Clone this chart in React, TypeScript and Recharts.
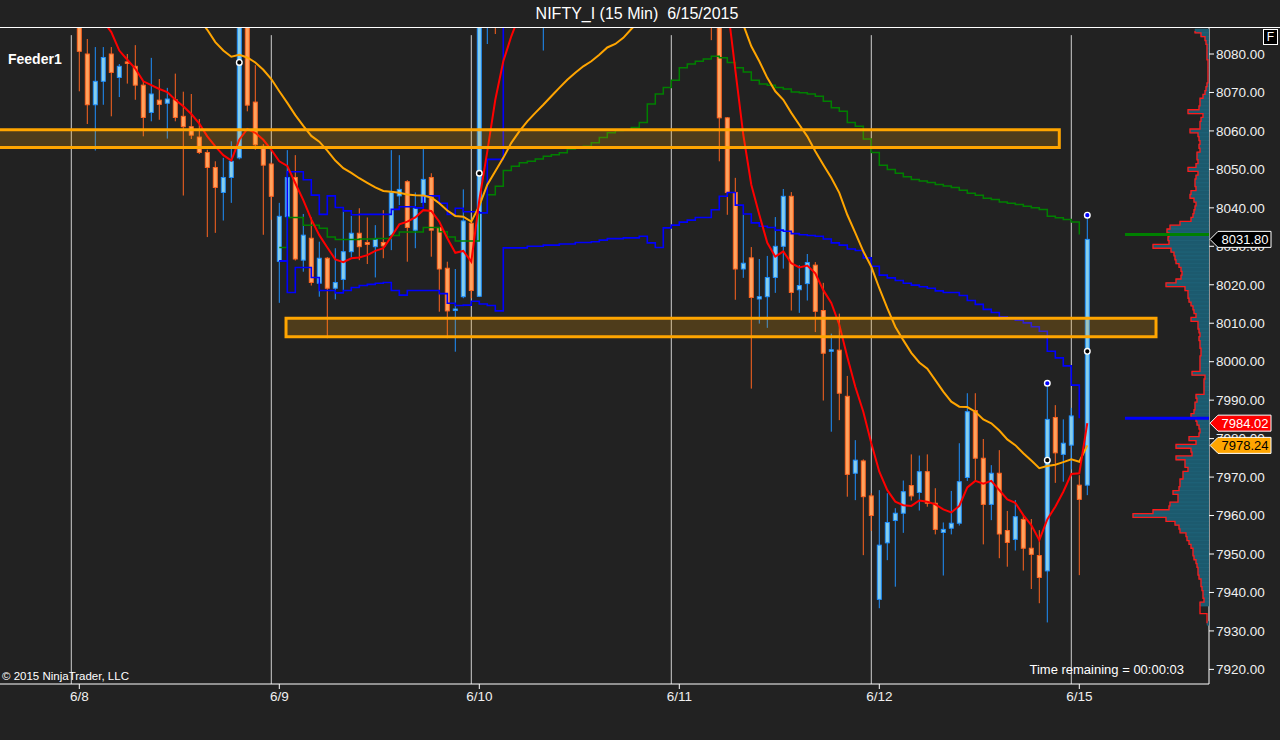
import React from "react";
import {
  ComposedChart,
  Bar,
  Line,
  Scatter,
  XAxis,
  YAxis,
  ReferenceLine,
  ReferenceArea,
  ReferenceDot,
} from "recharts";

const FONT = "'Liberation Sans', Arial, Helvetica, sans-serif";
const BG = "#222222";

// x = bar slot (15 min bars), y = price
const X_DOMAIN: [number, number] = [-0.9125, 150.2125];
const Y_DOMAIN: [number, number] = [7916.2, 8087.02];

// first visible bar slot
const firstBar = 9;

const opens = [
  8092, 8080.0, 8066.8, 8072.9, 8080.0, 8073.9, 8077.9, 8076.8, 8071.9, 8064.8,
  8068.0, 8067.2, 8068.1, 8063.8, 8061.1, 8058.4, 8054.4, 8050.5, 8044.0, 8047.9,
  8053.0, 8091, 8067.5, 8056.0, 8051.4, 8026.1, 8037.7, 8047.9, 8026.4, 8032.1,
  8020.4, 8026.9, 8019.1, 8021.4, 8028.6, 8033.4, 8031.0, 8029.9, 8031.0, 8032.8,
  8043.1, 8046.8, 8034.2, 8041.4, 8047.9, 8034.9, 8024.3, 8013.3, 8016.9, 8036.0,
  8017.0, 8095, 8106, 8098, 8111, 8116, 8110, 8104, 8096, 8105,
  8112, 8108, 8114, 8118, 8115, 8111, 8113, 8116, 8114, 8110,
  8112, 8109, 8113, 8111, 8108, 8110, 8120, 8118, 8114, 8106,
  8094, 8063.4, 8044.0, 8024.1, 8027.0, 8016.3, 8016.9, 8021.9, 8030.0, 8043.0,
  8018.7, 8020.3, 8025.1, 8013.3, 8002.7, 8003.0, 7991.0, 7971.0, 7974.2, 7965.1,
  7938.2, 7952.9, 7958.7, 7960.6, 7967.8, 7966.0, 7971.4, 7963.2, 7955.6, 7956.7,
  7958.0, 7969.9, 7987.3, 7974.9, 7962.9, 7971.0, 7956.1, 7953.8, 7959.0, 7951.5,
  7949.6, 7945.6, 7985.5, 7975.9, 7978.3, 7967.9, 7967.9,
];

const highs = [
  8095, 8083.9, 8081.8, 8081.8, 8081.8, 8077.4, 8080.0, 8082.3, 8072.9, 8079.0,
  8073.5, 8071.2, 8074.9, 8070.2, 8069.6, 8063.1, 8055.1, 8052.1, 8053.0, 8057.3,
  8096, 8094, 8077.1, 8056.6, 8051.8, 8041.3, 8055, 8053.7, 8038.4, 8037.5,
  8031.2, 8027.2, 8029.5, 8039.0, 8037.9, 8039.9, 8037.5, 8035.5, 8039.4, 8055,
  8053.7, 8047.2, 8044.0, 8056, 8049.0, 8035.0, 8026.0, 8024.1, 8044.8, 8036.2,
  8098, 8110, 8112, 8115, 8120, 8122, 8118, 8109, 8108, 8114,
  8118, 8116, 8121, 8124, 8119, 8117, 8120, 8122, 8118, 8116,
  8118, 8115, 8119, 8116, 8114, 8124, 8128, 8125, 8118, 8110,
  8098, 8063.6, 8047.8, 8038.2, 8029.8, 8026.7, 8027.5, 8037.6, 8044.9, 8044.1,
  8025.1, 8028.0, 8025.9, 8020.5, 8007.3, 8012.5, 7996.3, 7979.6, 7974.6, 7965.8,
  7966.6, 7965.8, 7961.9, 7969.1, 7975.9, 7975.6, 7975.9, 7967.1, 7958.2, 7966.4,
  7978.8, 7991.8, 7991.8, 7979.9, 7973.1, 7977.0, 7961.2, 7964.0, 7960.4, 7959.1,
  7956.2, 7994.4, 7988.7, 7985.0, 7988.0, 7970.5, 8038.1,
];

const lows = [
  8070.3, 8061.8, 8054.9, 8066.8, 8063.8, 8068.8, 8072.3, 8068.1, 8058.6, 8062.5,
  8062.9, 8058.0, 8062.5, 8043.2, 8057.9, 8054.0, 8032.4, 8033.5, 8036.7, 8041.3,
  8052.6, 8065.1, 8055.1, 8033.0, 8036.9, 8015.3, 8029.9, 8026.3, 8023.4, 8019.8,
  8016.9, 8006.1, 8016.2, 8018.6, 8027.1, 8026.4, 8025.4, 8021.9, 8026.9, 8029.0,
  8040.7, 8026.0, 8029.5, 8040.5, 8027.3, 8013.0, 8006.1, 8002.6, 8016.5, 8016.5,
  8016.8, 8082.6, 8085.2, 8094, 8105, 8108, 8100, 8092, 8080.9, 8100,
  8106, 8103, 8110, 8112, 8108, 8105, 8109, 8111, 8108, 8104,
  8107, 8104, 8108, 8105, 8102, 8106, 8114, 8110, 8104, 8083.6,
  8052.1, 8038.2, 8016.1, 8021.8, 7993.0, 8009.9, 8008.8, 8017.9, 8024.2, 8013.3,
  8012.7, 8015.9, 8007.7, 7989.9, 7981.8, 7984.8, 7964.9, 7964.0, 7949.7, 7956.0,
  7935.9, 7948.4, 7941.5, 7955.5, 7963.9, 7961.3, 7962.3, 7955.1, 7944.4, 7955.1,
  7957.4, 7969.0, 7969.2, 7952.5, 7958.8, 7948.9, 7946.7, 7950.9, 7945.7, 7940.9,
  7937.2, 7932.2, 7968.5, 7968.8, 7972.0, 7944.5, 7965.3,
];

const closes = [
  8080.7, 8066.8, 8072.9, 8079.1, 8075.2, 8076.8, 8077.6, 8071.9, 8063.5, 8069.6,
  8066.9, 8068.3, 8063.5, 8061.1, 8058.9, 8054.4, 8050.5, 8045.3, 8047.9, 8052.1,
  8092, 8066.7, 8056.4, 8051.1, 8043.0, 8037.8, 8047.9, 8026.7, 8032.9, 8020.6,
  8026.9, 8019.1, 8020.6, 8028.6, 8033.4, 8029.9, 8030.5, 8031.8, 8030.1, 8044.0,
  8044.8, 8034.9, 8039.9, 8047.4, 8034.2, 8024.1, 8013.2, 8013.7, 8036.6, 8018.5,
  8095, 8106, 8098, 8111, 8116, 8110, 8104, 8096, 8105, 8112,
  8108, 8114, 8118, 8115, 8111, 8113, 8116, 8114, 8110, 8112,
  8109, 8113, 8111, 8108, 8110, 8120, 8118, 8114, 8106, 8094,
  8063.4, 8044.0, 8024.1, 8025.6, 8016.7, 8016.9, 8021.9, 8030.0, 8043.0, 8018.0,
  8019.8, 8025.8, 8013.1, 8002.2, 8003.1, 7991.8, 7970.7, 7974.4, 7964.9, 7960.0,
  7952.3, 7958.2, 7960.6, 7966.2, 7965.1, 7971.4, 7963.2, 7956.4, 7956.4, 7958.0,
  7968.8, 7987.0, 7974.9, 7962.9, 7971.0, 7955.2, 7953.0, 7959.7, 7951.5, 7949.9,
  7943.9, 7985.0, 7976.3, 7978.8, 7985.9, 7964.2, 8031.8,
];

// fast average (red)
const redStart = 9;
const redEma = [
  8097, 8094, 8091.5, 8088.5, 8085.7, 8080.9, 8078.5, 8076.2, 8072.9, 8071.9,
  8070.9, 8070.1, 8068.1, 8066.4, 8064.4, 8061.9, 8058.6, 8056.0, 8053.7, 8052.3,
  8057.7, 8060.5, 8059.5, 8057.7, 8055.1, 8052.1, 8050.9, 8046.4, 8042.0, 8037.0,
  8032.9, 8029.7, 8026.6, 8025.9, 8026.9, 8027.1, 8027.7, 8028.8, 8029.5, 8032.5,
  8035.7, 8036.4, 8037.5, 8039.4, 8039.2, 8036.4, 8032.1, 8028.3, 8028.8, 8026.0,
  8042.0, 8054.7, 8068.1, 8078.1, 8084.6, 8090, 8094, 8097, 8100, 8102,
  8104, 8106, 8108, 8110, 8111, 8112, 8112, 8113, 8113, 8112,
  8112, 8112, 8111, 8111, 8110, 8112, 8114, 8115, 8113, 8107,
  8100, 8093, 8075.9, 8059.0, 8046.0, 8038.2, 8030.9, 8027.3, 8028.7, 8025.6,
  8024.5, 8025.0, 8023.0, 8018.6, 8015.3, 8009.6, 8001.2, 7993.5, 7987.0, 7978.8,
  7971.4, 7966.6, 7963.6, 7962.7, 7962.5, 7963.9, 7963.6, 7962.9, 7961.6, 7960.8,
  7962.5, 7967.3, 7969.0, 7968.3, 7969.0, 7966.6, 7964.2, 7963.3, 7960.1, 7957.5,
  7953.6, 7959.0, 7962.3, 7966.2, 7970.8, 7971.0, 7984.02,
];

// slow average (orange)
const orangeStart = 22;
const orangeMa = [
  8094, 8091.5, 8089, 8086.3, 8083.1, 8080.9, 8079.3, 8079.8, 8079.1, 8077.8,
  8075.9, 8073.5, 8070.3, 8067.3, 8064.1, 8061.3, 8058.7, 8057.2, 8054.9, 8052.3,
  8050.3, 8049.1, 8047.7, 8046.5, 8045.3, 8044.4, 8044.2, 8043.9, 8043.5, 8043.3,
  8043.2, 8042.7, 8041.2, 8039.3, 8037.9, 8037.7, 8036.4, 8040.5, 8046.0, 8049.5,
  8053.0, 8056.9, 8059.9, 8062.5, 8064.7, 8066.8, 8069.0, 8071.2, 8073.3, 8075.1,
  8076.8, 8078.1, 8079.8, 8081.7, 8082.6, 8084.2, 8086.5, 8088.5, 8091, 8093,
  8095, 8096.5, 8097.5, 8098.5, 8099, 8099, 8098.5, 8097, 8094.8, 8091.5,
  8087.6, 8082.0, 8078.1, 8073.8, 8070.3, 8068.1, 8064.7, 8061.6, 8058.6, 8054.7,
  8051.2, 8047.8, 8043.9, 8038.2, 8033.5, 8028.7, 8024.7, 8019.1, 8013.9, 8009.1,
  8005.6, 8002.3, 7999.8, 7998.2, 7995.2, 7992.2, 7989.6, 7988.3, 7988.2, 7987.0,
  7985.0, 7984.0, 7982.1, 7979.8, 7978.3, 7976.2, 7974.3, 7972.3, 7972.9, 7973.2,
  7973.9, 7974.6, 7974.0, 7978.24,
];

// anchored average (green step)
const greenStart = 34;
const greenVwap = [
  8029.7, 8037.5, 8037.5, 8035.5, 8035.5, 8034.7, 8032.4, 8031.8, 8031.8, 8031.8,
  8031.9, 8031.9, 8032.0, 8032.0, 8032.8, 8033.7, 8033.7, 8033.7, 8034.9, 8034.9,
  8033.8, 8032.4, 8031.4, 8031.4, 8031.4, 8038.7, 8043.4, 8045.6, 8049.7, 8050.8,
  8051.7, 8052.1, 8052.7, 8053.4, 8053.8, 8054.3, 8055.3, 8055.6, 8056.0, 8056.9,
  8058.3, 8059.5, 8060.1, 8060.3, 8060.9, 8062.2, 8067.0, 8069.6, 8071.3, 8073.2,
  8076.4, 8077.4, 8078.1, 8078.7, 8079.4, 8079.0, 8077.8, 8076.4, 8075.3, 8073.2,
  8072.2, 8071.9, 8071.3, 8070.9, 8070.1, 8069.9, 8069.6, 8069.0, 8067.7, 8066.0,
  8065.1, 8062.2, 8061.2, 8057.9, 8054.4, 8051.1, 8050.0, 8049.0, 8048.1, 8047.4,
  8047.0, 8046.6, 8046.1, 8045.7, 8045.3, 8044.6, 8043.8, 8043.3, 8042.5, 8042.2,
  8041.5, 8041.2, 8040.9, 8040.4, 8040.0, 8039.6, 8037.8, 8037.4, 8037.0, 8036.3,
  8033.1,
];

// band steps (blue)
const upperStart = 34;
const blueUpper = [
  8026.2, 8049.4, 8049.4, 8047.3, 8043.3, 8038.3, 8043.1, 8040.1, 8039.2, 8038.2,
  8038.3, 8038.3, 8038.3, 8038.3, 8039.6, 8040.3, 8040.3, 8040.0, 8043.1, 8043.1,
  8041.2, 8038.3, 8039.9, 8039.0, 8039.0, 8038.7, 8052.6, 8052.6, 8100,
];

const lowerStart = 34;
const blueLower = [
  8026.2, 8018.0, 8024.5, 8024.5, 8021.9, 8018.5, 8018.5, 8017.9, 8018.5, 8019.3,
  8019.8, 8020.1, 8020.4, 8020.6, 8018.5, 8017.3, 8018.5, 8018.5, 8018.5, 8018.5,
  8017.7, 8015.2, 8014.6, 8014.7, 8015.7, 8015.0, 8014.6, 8013.2, 8029.6, 8029.6,
  8029.6, 8030.0, 8030.0, 8030.3, 8030.3, 8030.6, 8030.6, 8031.0, 8031.0, 8031.2,
  8031.6, 8032.0, 8032.0, 8032.2, 8032.2, 8032.6, 8030.9, 8029.7, 8034.8, 8035.5,
  8036.3, 8036.8, 8037.5, 8037.5, 8039.5, 8043.0, 8044.0, 8040.7, 8038.4, 8036.1,
  8035.2, 8034.9, 8034.2, 8033.9, 8033.3, 8033.0, 8032.8, 8032.6, 8031.9, 8030.9,
  8030.3, 8029.3, 8028.9, 8027.0, 8024.8, 8022.5, 8021.8, 8021.1, 8020.4, 8019.9,
  8019.5, 8019.1, 8018.4, 8018.0, 8018.0, 8017.2, 8015.9, 8014.9, 8013.6, 8012.8,
  8011.7, 8011.2, 8010.8, 8010.1, 8009.1, 8007.9, 8002.7, 8001.0, 7998.9, 7993.9,
  7985.3,
];

const dayTicks = [9, 34, 59, 84, 109, 134];
const dayLabels = ["6/8", "6/9", "6/10", "6/11", "6/12", "6/15"];
const sessionBreaks = [8, 33, 58, 83, 108, 133];
const priceTicks = [
  7920, 7930, 7940, 7950, 7960, 7970, 7980, 7990, 8000,
  8010, 8020, 8030, 8040, 8050, 8060, 8070, 8080,
];

const blackDots = [
  { i: 29, v: 8077.8 },
  { i: 59, v: 8049.0 },
  { i: 130, v: 7974.4 },
  { i: 135, v: 8002.7 },
];
const blueDots = [
  { i: 130, v: 7994.4 },
  { i: 135, v: 8038.1 },
];

// drawn zones: bar slots and prices
const zones = [
  { x1: -5, x2: 131.5, y1: 8055.7, y2: 8060.3 },
  { x1: 34.84, x2: 143.59, y1: 8006.5, y2: 8011.3 },
];

// volume profile, 1 point rows from vpTop downwards
const vpTop = 8086;
const vpVolumes: (number | null)[] = [
  14, 8, 4, 3, 2, 2, 2, 2, 1, 1,
  1, 1, 1, 1, 2, 3, 4, 6, 9, 9,
  10, 21, 6, 8, 9, 9, 19, 11, 10, 9,
  10, 9, 12, 12, 11, 13, 21, 11, 13, 14,
  14, 13, 18, 19, 15, 13, 14, 15, 16, 18,
  29, 39, 42, 40, 41, 40, 56, 38, 35, 34,
  33, 30, 28, 27, 28, 33, 43, 24, 21, 21,
  20, 18, 16, 15, 13, 18, 11, 11, 10, 9,
  10, 9, 9, 8, 8, 9, 9, 9, 9, 17,
  4, 5, 5, 5, 5, 13, 12, 14, 14, 15,
  18, 13, 12, 10, 9, 10, 20, 13, 33, 18,
  17, 33, 24, 24, 21, 26, 26, 29, 29, 30,
  36, 31, 31, 39, 40, 56, 76, 43, 34, 30,
  29, 23, 22, 20, 18, 16, 16, 15, 13, 12,
  11, 11, 10, 8, 8, 7, 6, 6, 5, 9,
  null, null, null, null, 2,
];

const lastClose = 8031.8;
const redLast = 7984.02;
const orangeLast = 7978.24;
const greenMark = 8033.1;
const blueMark = 7985.3;

const seriesAt = (arr: (number | null)[], start: number, i: number) => {
  const k = i - start;
  return k >= 0 && k < arr.length ? arr[k] : null;
};

const rows = opens.map((o, k) => {
  const i = firstBar + k;
  return {
    i,
    o,
    h: highs[k],
    l: lows[k],
    c: closes[k],
    hl: [lows[k], highs[k]],
    red: seriesAt(redEma, redStart, i),
    ora: seriesAt(orangeMa, orangeStart, i),
    grn: seriesAt(greenVwap, greenStart, i),
    bu: seriesAt(blueUpper, upperStart, i),
    bl: seriesAt(blueLower, lowerStart, i),
  };
});

const vpRows = vpVolumes.map((v, k) => ({ p: vpTop - k, v }));

const Candle = (props: any) => {
  const { x, y, width, height, payload } = props;
  if (!payload || x == null || y == null) return null;
  const { o, h, l, c } = payload;
  const top = Math.min(y, y + height);
  const span = Math.abs(height);
  const k = h > l ? span / (h - l) : 0;
  const cx = x + width / 2;
  const up = c >= o;
  const hiBody = Math.max(o, c);
  const loBody = Math.min(o, c);
  let bodyTop = top + (h - hiBody) * k;
  let bodyH = (hiBody - loBody) * k;
  if (bodyH < 1.5) {
    bodyTop -= (1.5 - bodyH) / 2;
    bodyH = 1.5;
  }
  const edge = up ? "#1e90ff" : "#ff6420";
  const fill = up ? "#87ceeb" : "#ffa35e";
  return (
    <g>
      <line x1={cx} x2={cx} y1={top} y2={top + span} stroke={edge} strokeWidth={1} />
      <rect x={cx - 2} y={bodyTop} width={4} height={bodyH} fill={fill} stroke={edge} strokeWidth={1} />
    </g>
  );
};

// profile outline: vertical edge per row, horizontal joins half way between rows
const profileStep = (context: any) => {
  let px = 0;
  let py = 0;
  let n = 0;
  return {
    areaStart() {},
    areaEnd() {},
    lineStart() {
      n = 0;
    },
    lineEnd() {},
    point(x: number, y: number) {
      if (n === 0) {
        context.moveTo(x, y);
      } else {
        const m = (py + y) / 2;
        context.lineTo(px, m);
        context.lineTo(x, m);
        context.lineTo(x, y);
      }
      n += 1;
      px = x;
      py = y;
    },
  };
};

const PriceTag = ({ cx, cy, text, fill, color }: any) => (
  <g>
    <path
      d={`M${cx + 1},${cy} L${cx + 9},${cy - 8} L${cx + 62},${cy - 8} L${cx + 62},${cy + 8} L${cx + 9},${cy + 8} Z`}
      fill={fill}
      stroke="#ffffff"
      strokeWidth={1}
    />
    <text x={cx + 36} y={cy} dy="0.36em" textAnchor="middle" fill={color} fontSize={13} fontFamily={FONT}>
      {text}
    </text>
  </g>
);

const dot = (fill: string) => (p: any) =>
  <circle cx={p.cx} cy={p.cy} r={2.8} fill={fill} stroke="#ffffff" strokeWidth={1.4} />;

export default function App() {
  return (
    <div
      style={{
        position: "absolute",
        left: 0,
        top: 0,
        width: 1280,
        height: 740,
        background: BG,
        overflow: "hidden",
        fontFamily: FONT,
      }}
    >
      <div style={{ position: "absolute", left: 0, top: 0 }}>
        <ComposedChart width={1280} height={740} data={rows} margin={{ top: 27, right: 0, bottom: 26, left: 0 }}>
          <XAxis
            dataKey="i"
            type="number"
            domain={X_DOMAIN}
            allowDataOverflow
            ticks={dayTicks}
            interval={0}
            tickFormatter={(v: number) => dayLabels[dayTicks.indexOf(v)] ?? ""}
            height={30}
            stroke="#ffffff"
            tickSize={5}
            tick={{ fill: "#f0f0f0", fontSize: 13.5, fontFamily: FONT }}
          />
          <YAxis
            orientation="right"
            type="number"
            domain={Y_DOMAIN}
            allowDataOverflow
            ticks={priceTicks}
            interval={0}
            tickFormatter={(v: number) => v.toFixed(2)}
            width={71}
            stroke="#ffffff"
            tickSize={5}
            tick={{ fill: "#f0f0f0", fontSize: 13.5, fontFamily: FONT }}
          />
          {sessionBreaks.map((b) => (
            <ReferenceLine
              key={`s${b}`}
              segment={[
                { x: b, y: 8084.9 },
                { x: b, y: Y_DOMAIN[0] },
              ]}
              stroke="#cfcfcf"
              strokeWidth={1}
              zIndex={250}
            />
          ))}
          <Bar dataKey="hl" barSize={6} shape={(p: any) => <Candle {...p} />} isAnimationActive={false} />
          <Line dataKey="grn" type="stepAfter" stroke="#008000" strokeWidth={1.5} dot={false} activeDot={false} isAnimationActive={false} />
          <Line dataKey="bu" type="stepAfter" stroke="#0000ff" strokeWidth={1.6} dot={false} activeDot={false} isAnimationActive={false} />
          <Line dataKey="bl" type="stepAfter" stroke="#0000ff" strokeWidth={1.6} dot={false} activeDot={false} isAnimationActive={false} />
          <Line dataKey="ora" type="linear" stroke="#ffa500" strokeWidth={2} dot={false} activeDot={false} isAnimationActive={false} />
          <Line dataKey="red" type="linear" stroke="#ff0000" strokeWidth={2} dot={false} activeDot={false} isAnimationActive={false} />
          {zones.map((z, k) => (
            <ReferenceArea
              key={`z${k}`}
              x1={z.x1}
              x2={z.x2}
              y1={z.y1}
              y2={z.y2}
              fill="#ffa500"
              fillOpacity={0.2}
              stroke="#ffa500"
              strokeWidth={3}
              ifOverflow="hidden"
              zIndex={450}
            />
          ))}
          <Scatter data={blackDots} dataKey="v" shape={dot("#000000")} isAnimationActive={false} />
          <Scatter data={blueDots} dataKey="v" shape={dot("#0000ff")} isAnimationActive={false} />
        </ComposedChart>
      </div>

      <div style={{ position: "absolute", left: 0, top: 0 }}>
        <ComposedChart
          layout="vertical"
          width={1280}
          height={740}
          data={vpRows}
          margin={{ top: 27, right: 71, bottom: 56, left: 1109 }}
          barCategoryGap={0}
        >
          <XAxis type="number" domain={[0, 100]} reversed hide allowDataOverflow />
          <YAxis type="number" dataKey="p" domain={Y_DOMAIN} reversed hide allowDataOverflow />
          <Bar dataKey="v" fill="#1c5a6e" stroke="#236a80" strokeWidth={0.5} isAnimationActive={false} />
          <Line dataKey="v" type={profileStep as any} stroke="#ff1a1a" strokeWidth={1.3} dot={false} activeDot={false} isAnimationActive={false} />
          <ReferenceLine segment={[{ x: 84, y: greenMark }, { x: 0, y: greenMark }]} stroke="#008000" strokeWidth={3} />
          <ReferenceLine segment={[{ x: 84, y: blueMark }, { x: 0, y: blueMark }]} stroke="#0000ff" strokeWidth={3} />
          <ReferenceDot
            x={0}
            y={lastClose}
            r={1}
            ifOverflow="visible"
            shape={(p: any) => <PriceTag cx={p.cx} cy={p.cy} text={lastClose.toFixed(2)} fill="#000000" color="#ffffff" />}
          />
          <ReferenceDot
            x={0}
            y={redLast}
            r={1}
            ifOverflow="visible"
            shape={(p: any) => <PriceTag cx={p.cx} cy={p.cy} text={redLast.toFixed(2)} fill="#ff0000" color="#ffffff" />}
          />
          <ReferenceDot
            x={0}
            y={orangeLast}
            r={1}
            ifOverflow="visible"
            shape={(p: any) => <PriceTag cx={p.cx} cy={p.cy} text={orangeLast.toFixed(2)} fill="#ffa500" color="#000000" />}
          />
        </ComposedChart>
      </div>

      {/* title bar and frame */}
      <div
        style={{
          position: "absolute",
          left: 0,
          top: 5,
          width: 1274,
          textAlign: "center",
          color: "#ffffff",
          fontSize: 16,
          lineHeight: "normal",
        }}
      >
        NIFTY_I (15 Min)&nbsp;&nbsp;6/15/2015
      </div>
      <div style={{ position: "absolute", left: 0, top: 27, width: 1280, height: 1, background: "#ffffff" }} />
      <div
        style={{
          position: "absolute",
          left: 1263,
          top: 29,
          width: 13,
          height: 14,
          border: "1px solid #ffffff",
          background: "#000000",
          color: "#ffffff",
          fontSize: 12,
          lineHeight: "14px",
          textAlign: "center",
        }}
      >
        F
      </div>
      <div style={{ position: "absolute", left: 8, top: 51, color: "#ffffff", fontSize: 14, fontWeight: "bold" }}>
        Feeder1
      </div>
      <div style={{ position: "absolute", left: 2, top: 670, color: "#ffffff", fontSize: 11.5 }}>
        © 2015 NinjaTrader, LLC
      </div>
      <div style={{ position: "absolute", right: 96, top: 662, color: "#ffffff", fontSize: 13 }}>
        Time remaining = 00:00:03
      </div>
    </div>
  );
}
